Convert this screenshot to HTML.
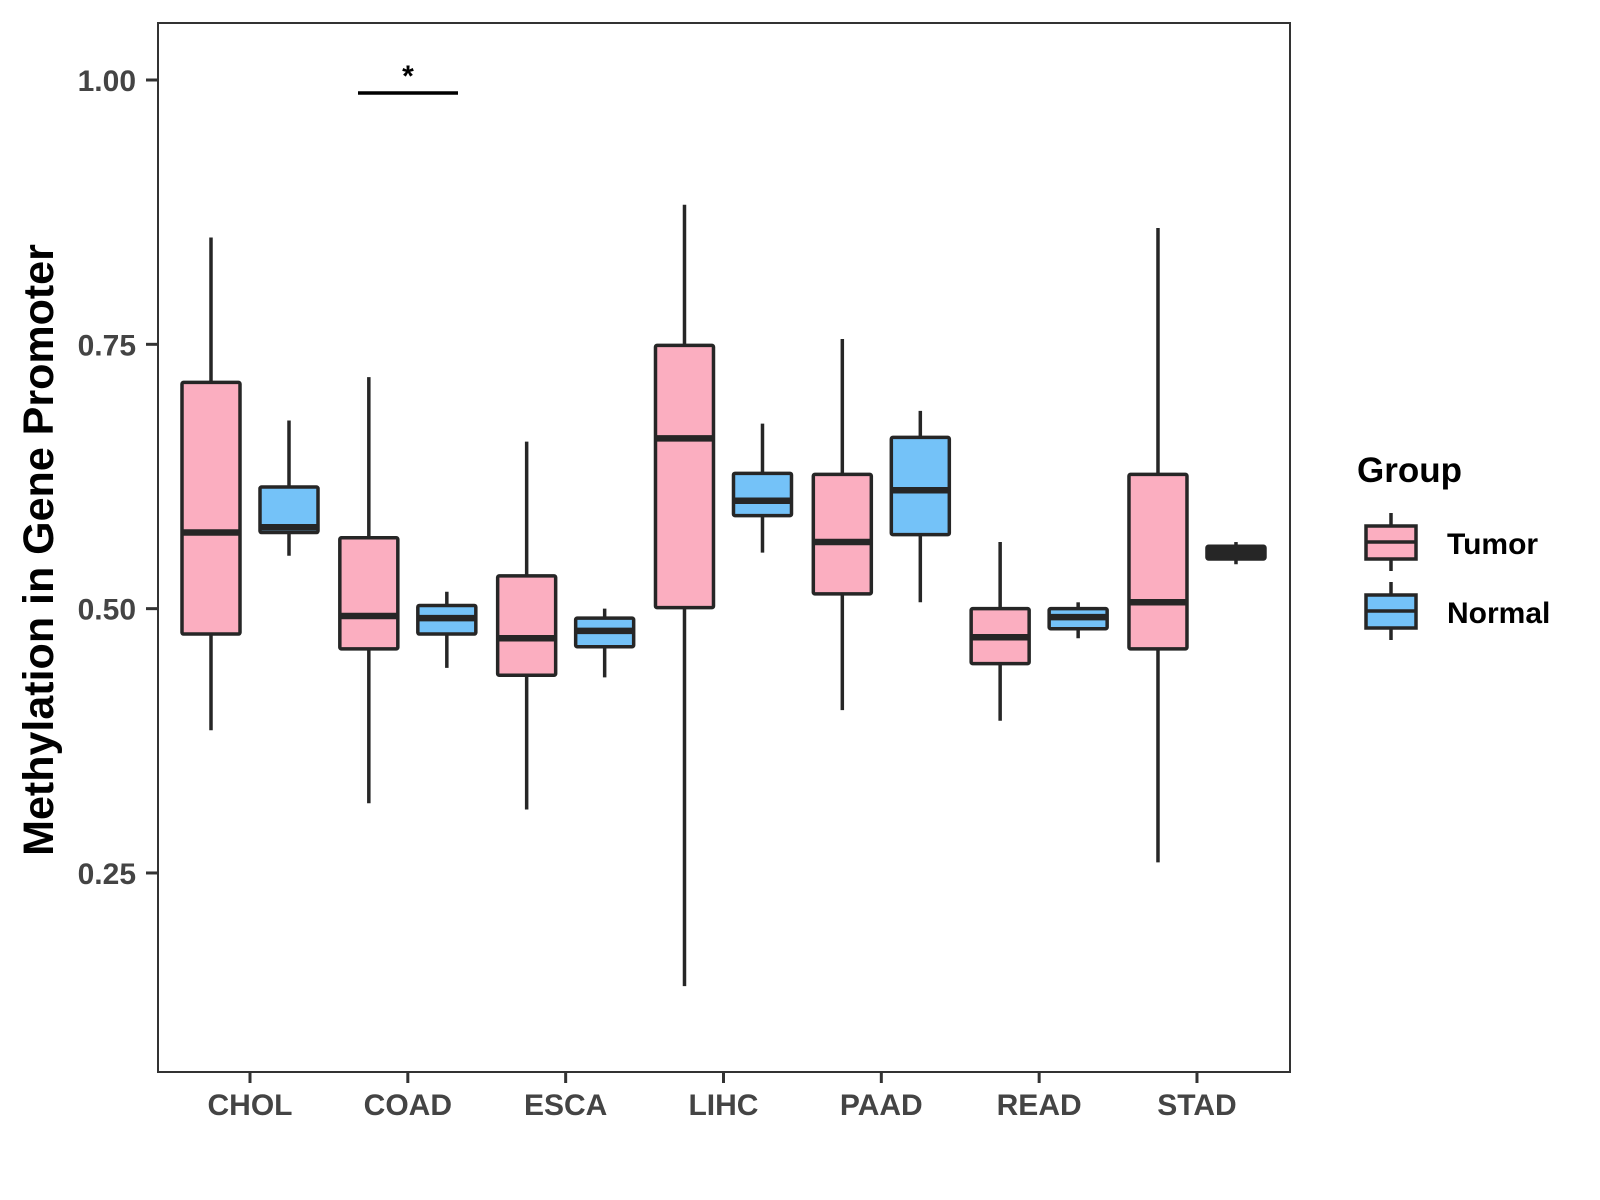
<!DOCTYPE html>
<html><head><meta charset="utf-8"><style>
html,body{margin:0;padding:0;background:#fff;}
svg{display:block;font-family:"Liberation Sans",Arial,sans-serif;}
</style></head><body>
<svg id="chart" width="1600" height="1200" viewBox="0 0 1600 1200" xmlns="http://www.w3.org/2000/svg">
<rect x="0" y="0" width="1600" height="1200" fill="#fff"/>
<g id="plot"></g>
<rect x="158" y="23" width="1132" height="1049" fill="none" stroke="#333" stroke-width="2"/>
<g id="axes"></g>
<text x="39" y="550" transform="rotate(-90 39 550)" text-anchor="middle" dominant-baseline="central" font-size="43" font-weight="bold" fill="#000">Methylation in Gene Promoter</text>
<g>
<text x="1357" y="482" font-size="35" font-weight="bold" fill="#000">Group</text>
<g>
<line x1="1391" y1="513" x2="1391" y2="571" stroke="#262626" stroke-width="3.5"/>
<rect x="1366" y="526" width="50" height="33" fill="#FBAEC0" stroke="#262626" stroke-width="3.5"/>
<line x1="1366" y1="542" x2="1416" y2="542" stroke="#262626" stroke-width="3.5"/>
<text x="1447" y="554" font-size="30" font-weight="bold" fill="#000">Tumor</text>
</g>
<g>
<line x1="1391" y1="582" x2="1391" y2="640" stroke="#262626" stroke-width="3.5"/>
<rect x="1366" y="595" width="50" height="33" fill="#74C2F8" stroke="#262626" stroke-width="3.5"/>
<line x1="1366" y1="611" x2="1416" y2="611" stroke="#262626" stroke-width="3.5"/>
<text x="1447" y="623" font-size="30" font-weight="bold" fill="#000">Normal</text>
</g>
</g>
<g>
<line x1="358" y1="93" x2="458" y2="93" stroke="#000" stroke-width="3.5"/>
<text x="408" y="86" text-anchor="middle" font-size="30" font-weight="bold" fill="#000">*</text>
</g>
</svg>
<script>
const categories = ["CHOL","COAD","ESCA","LIHC","PAAD","READ","STAD"];
const yTicks = [0.25,0.50,0.75,1.00];
const yTickLabels = ["0.25","0.50","0.75","1.00"];
// [whiskerHigh, Q3, median, Q1, whiskerLow]
const tumorStats = [
 [0.851,0.714,0.572,0.476,0.385],
 [0.719,0.567,0.493,0.462,0.316],
 [0.658,0.531,0.472,0.437,0.310],
 [0.882,0.749,0.661,0.501,0.143],
 [0.755,0.627,0.563,0.514,0.404],
 [0.563,0.500,0.473,0.448,0.394],
 [0.860,0.627,0.506,0.462,0.260]
];
const normalStats = [
 [0.678,0.615,0.577,0.572,0.550],
 [0.516,0.503,0.491,0.476,0.444],
 [0.500,0.491,0.479,0.464,0.435],
 [0.675,0.628,0.602,0.588,0.553],
 [0.687,0.662,0.612,0.570,0.506],
 [0.506,0.500,0.492,0.481,0.472],
 [0.563,0.559,0.554,0.547,0.542]
];
const NS="http://www.w3.org/2000/svg";
function yScale(v){return 80+(1-v)*1057.3;}
function xScale(i){return 250+i*157.83;}
function mk(tag,attrs,parent){const e=document.createElementNS(NS,tag);for(const k in attrs)e.setAttribute(k,attrs[k]);parent.appendChild(e);return e;}
const plot=document.getElementById('plot');
const axes=document.getElementById('axes');
function drawBox(cx,s,fill,name){
  const g=mk('g',{},plot);
  
  
  const w=58;
  const h=yScale(s[3])-yScale(s[1]);
  const wl=mk('line',{x1:cx,x2:cx,y1:yScale(s[0]),y2:yScale(s[4]),stroke:'#262626','stroke-width':3.5},g);
  
  
  const r=mk('rect',{x:cx-w/2,y:yScale(s[1]),width:w,height:Math.max(h,0.5),fill:(h<14?'#262626':fill),stroke:'#262626','stroke-width':3.5,rx:1.5},g);
  
  
  const m=mk('line',{x1:cx-w/2,x2:cx+w/2,y1:yScale(s[2]),y2:yScale(s[2]),stroke:'#262626','stroke-width':6.5},g);
  
  
}
categories.forEach((c,i)=>{
  drawBox(xScale(i)-39,tumorStats[i],'#FBAEC0','box-'+c.toLowerCase()+'-tumor');
  drawBox(xScale(i)+39,normalStats[i],'#74C2F8','box-'+c.toLowerCase()+'-normal');
  const t=mk('line',{x1:xScale(i),x2:xScale(i),y1:1072,y2:1083,stroke:'#333','stroke-width':3},axes);
  
  
  const l=mk('text',{x:xScale(i),y:1115,'text-anchor':'middle','font-size':30,'font-weight':'bold',fill:'#444'},axes);
  l.textContent=c;
  
  
});
yTicks.forEach((v,i)=>{
  const t=mk('line',{x1:146,x2:158,y1:yScale(v),y2:yScale(v),stroke:'#333','stroke-width':3},axes);
  
  
  const l=mk('text',{x:136,y:yScale(v)+11,'text-anchor':'end','font-size':30,'font-weight':'bold',fill:'#444'},axes);
  l.textContent=yTickLabels[i];
  
  
});
</script>
</body></html>
